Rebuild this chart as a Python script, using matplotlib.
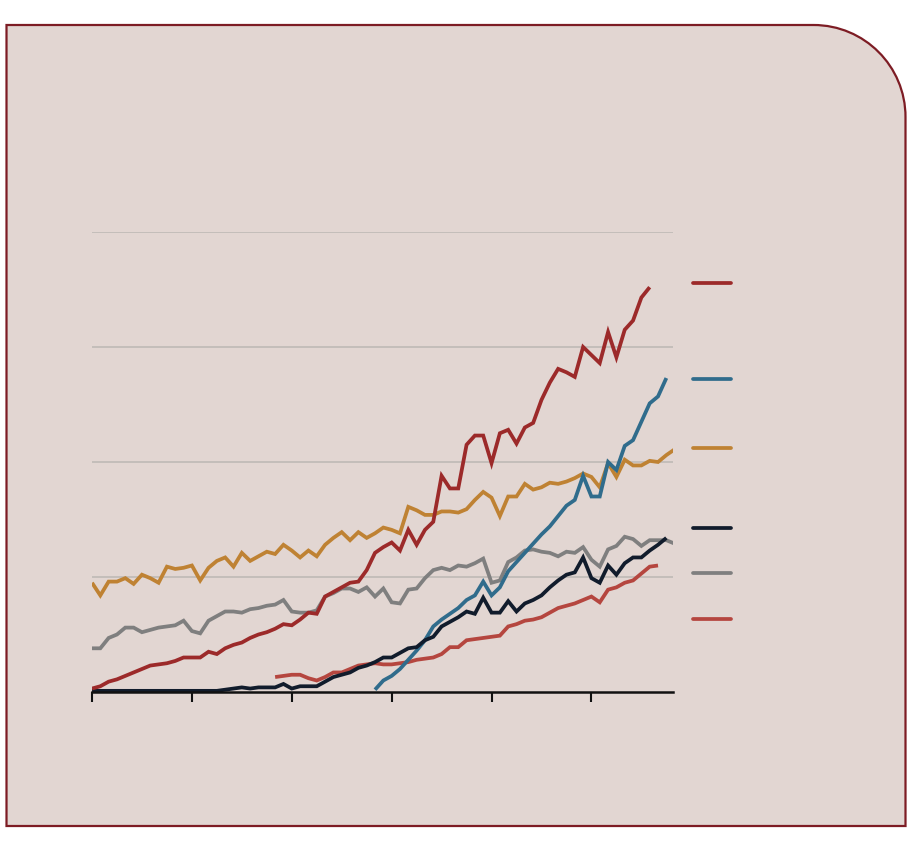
#!/usr/bin/env python3
"""Six growth lines on a tinted card with a rounded top-right corner."""

import numpy as np
import matplotlib
matplotlib.use('Agg')
import matplotlib.pyplot as plt
from matplotlib.path import Path
from matplotlib.patches import PathPatch
from matplotlib.lines import Line2D

# ── data: one value per period, first period given separately ────────────────
red_start = 0
red = [0.03, 0.05, 0.09, 0.11, 0.14, 0.17, 0.20, 0.23, 0.24, 0.25,
       0.27, 0.30, 0.30, 0.30, 0.35, 0.33, 0.38, 0.41, 0.43, 0.47,
       0.50, 0.52, 0.55, 0.59, 0.58, 0.63, 0.69, 0.68, 0.83, 0.87,
       0.91, 0.95, 0.96, 1.06, 1.21, 1.26, 1.30, 1.23, 1.41, 1.28,
       1.41, 1.48, 1.88, 1.77, 1.77, 2.15, 2.23, 2.23, 1.99, 2.25,
       2.28, 2.16, 2.30, 2.34, 2.54, 2.69, 2.81, 2.78, 2.74, 3.00,
       2.93, 2.86, 3.13, 2.91, 3.15, 3.23, 3.43, 3.52]

blue_start = 34
blue = [0.02, 0.10, 0.14, 0.20, 0.28, 0.36, 0.45, 0.57, 0.63, 0.68,
        0.73, 0.80, 0.84, 0.96, 0.84, 0.91, 1.05, 1.13, 1.21, 1.29,
        1.37, 1.44, 1.53, 1.62, 1.67, 1.88, 1.70, 1.70, 2.00, 1.93,
        2.14, 2.19, 2.35, 2.51, 2.57, 2.73]

orange_start = 0
orange = [0.95, 0.84, 0.96, 0.96, 0.99, 0.94, 1.02, 0.99, 0.95, 1.09,
          1.07, 1.08, 1.10, 0.97, 1.08, 1.14, 1.17, 1.09, 1.21, 1.14,
          1.18, 1.22, 1.20, 1.28, 1.23, 1.17, 1.23, 1.18, 1.28, 1.34,
          1.39, 1.32, 1.39, 1.34, 1.38, 1.43, 1.41, 1.38, 1.61, 1.58,
          1.54, 1.54, 1.57, 1.57, 1.56, 1.59, 1.67, 1.74, 1.69, 1.53,
          1.70, 1.70, 1.81, 1.76, 1.78, 1.82, 1.81, 1.83, 1.86, 1.90,
          1.87, 1.78, 1.99, 1.87, 2.02, 1.97, 1.97, 2.01, 2.00, 2.06,
          2.11]

navy_start = 0
navy = [0.01, 0.01, 0.01, 0.01, 0.01, 0.01, 0.01, 0.01, 0.01, 0.01,
        0.01, 0.01, 0.01, 0.01, 0.01, 0.01, 0.02, 0.03, 0.04, 0.03,
        0.04, 0.04, 0.04, 0.07, 0.03, 0.05, 0.05, 0.05, 0.09, 0.13,
        0.15, 0.17, 0.21, 0.23, 0.26, 0.30, 0.30, 0.34, 0.38, 0.39,
        0.45, 0.48, 0.57, 0.61, 0.65, 0.70, 0.68, 0.82, 0.69, 0.69,
        0.79, 0.70, 0.77, 0.80, 0.84, 0.91, 0.97, 1.02, 1.04, 1.17,
        0.99, 0.95, 1.10, 1.02, 1.12, 1.17, 1.17, 1.23, 1.28, 1.34]

gray_start = 0
gray = [0.38, 0.38, 0.47, 0.50, 0.56, 0.56, 0.52, 0.54, 0.56, 0.57,
        0.58, 0.62, 0.53, 0.51, 0.62, 0.66, 0.70, 0.70, 0.69, 0.72,
        0.73, 0.75, 0.76, 0.80, 0.70, 0.69, 0.69, 0.71, 0.83, 0.86,
        0.90, 0.90, 0.87, 0.91, 0.83, 0.90, 0.78, 0.77, 0.89, 0.90,
        0.99, 1.06, 1.08, 1.06, 1.10, 1.09, 1.12, 1.16, 0.95, 0.97,
        1.13, 1.17, 1.23, 1.24, 1.22, 1.21, 1.18, 1.22, 1.21, 1.26,
        1.15, 1.09, 1.24, 1.27, 1.35, 1.33, 1.27, 1.32, 1.32, 1.32,
        1.29]

pink_start = 22
pink = [0.13, 0.14, 0.15, 0.15, 0.12, 0.10, 0.13, 0.17, 0.17, 0.20,
        0.23, 0.24, 0.25, 0.24, 0.24, 0.25, 0.26, 0.28, 0.29, 0.30,
        0.33, 0.39, 0.39, 0.45, 0.46, 0.47, 0.48, 0.49, 0.57, 0.59,
        0.62, 0.63, 0.65, 0.69, 0.73, 0.75, 0.77, 0.80, 0.83, 0.78,
        0.89, 0.91, 0.95, 0.97, 1.03, 1.09, 1.10]

x_ticks = [0, 12, 24, 36, 48, 60]
y_grid = [1, 2, 3, 4]

# ── styles ───────────────────────────────────────────────────────────────────
CARD = '#e2d6d2'
EDGE = '#7d1c24'
COLORS = {
    'red':    '#9c2a2a',
    'blue':   '#306c8c',
    'orange': '#bf8233',
    'navy':   '#111c2c',
    'gray':   '#7f7f7f',
    'pink':   '#b5463f',
}

# draw order: back to front
SERIES = [
    ('orange', orange_start, orange),
    ('gray', gray_start, gray),
    ('pink', pink_start, pink),
    ('blue', blue_start, blue),
    ('navy', navy_start, navy),
    ('red', red_start, red),
]

W, H = 916, 848
fig = plt.figure(figsize=(W / 100, H / 100), dpi=100)
fig.patch.set_facecolor('white')

# card with rounded top-right corner (figure pixel coords, origin bottom-left)
l, r, b, t, rad = 6.5, 905.5, 848 - 826, 848 - 25, 92
k = 0.5523 * rad
verts = [(l, b), (r, b), (r, t - rad),
         (r, t - rad + k), (r - rad + k, t), (r - rad, t),
         (l, t), (l, b)]
codes = [Path.MOVETO, Path.LINETO, Path.LINETO,
         Path.CURVE4, Path.CURVE4, Path.CURVE4,
         Path.LINETO, Path.CLOSEPOLY]
verts = [(vx / W, vy / H) for vx, vy in verts]
card = PathPatch(Path(verts, codes), transform=fig.transFigure,
                 facecolor=CARD, edgecolor=EDGE, linewidth=1.6, zorder=-5)
fig.patches.append(card)

ax = fig.add_axes([92 / W, (H - 692) / H, 581 / W, 460 / H])
ax.set_zorder(2)
ax.set_facecolor('none')
ax.set_xlim(0, 69.8)
ax.set_ylim(0, 4)

for g in y_grid:
    ax.axhline(g, color='#bfbab6', linewidth=1.2, zorder=1)

for name, start, vals in SERIES:
    xs = np.arange(start, start + len(vals))
    ax.plot(xs, vals, color=COLORS[name], linewidth=2.7,
            solid_joinstyle='miter', solid_capstyle='butt', zorder=3)

for side in ('top', 'right', 'left'):
    ax.spines[side].set_visible(False)
ax.spines['bottom'].set_color('#111111')
ax.spines['bottom'].set_linewidth(1.8)
ax.spines['bottom'].set_zorder(4)
ax.set_xticks(x_ticks)
ax.set_xticklabels([])
ax.set_yticks([])
ax.tick_params(axis='x', direction='out', length=7, width=1.5, color='#111111')

# key swatches on the right (no labels in the original)
key_rows = [('red', 283), ('blue', 379), ('orange', 448),
            ('navy', 528), ('gray', 573), ('pink', 619)]
for name, py in key_rows:
    fig.add_artist(Line2D([693 / W, 731 / W], [(H - py) / H] * 2,
                          color=COLORS[name], linewidth=2.7,
                          solid_capstyle='round', zorder=3))

fig.savefig('out.png', dpi=100, facecolor='white')
